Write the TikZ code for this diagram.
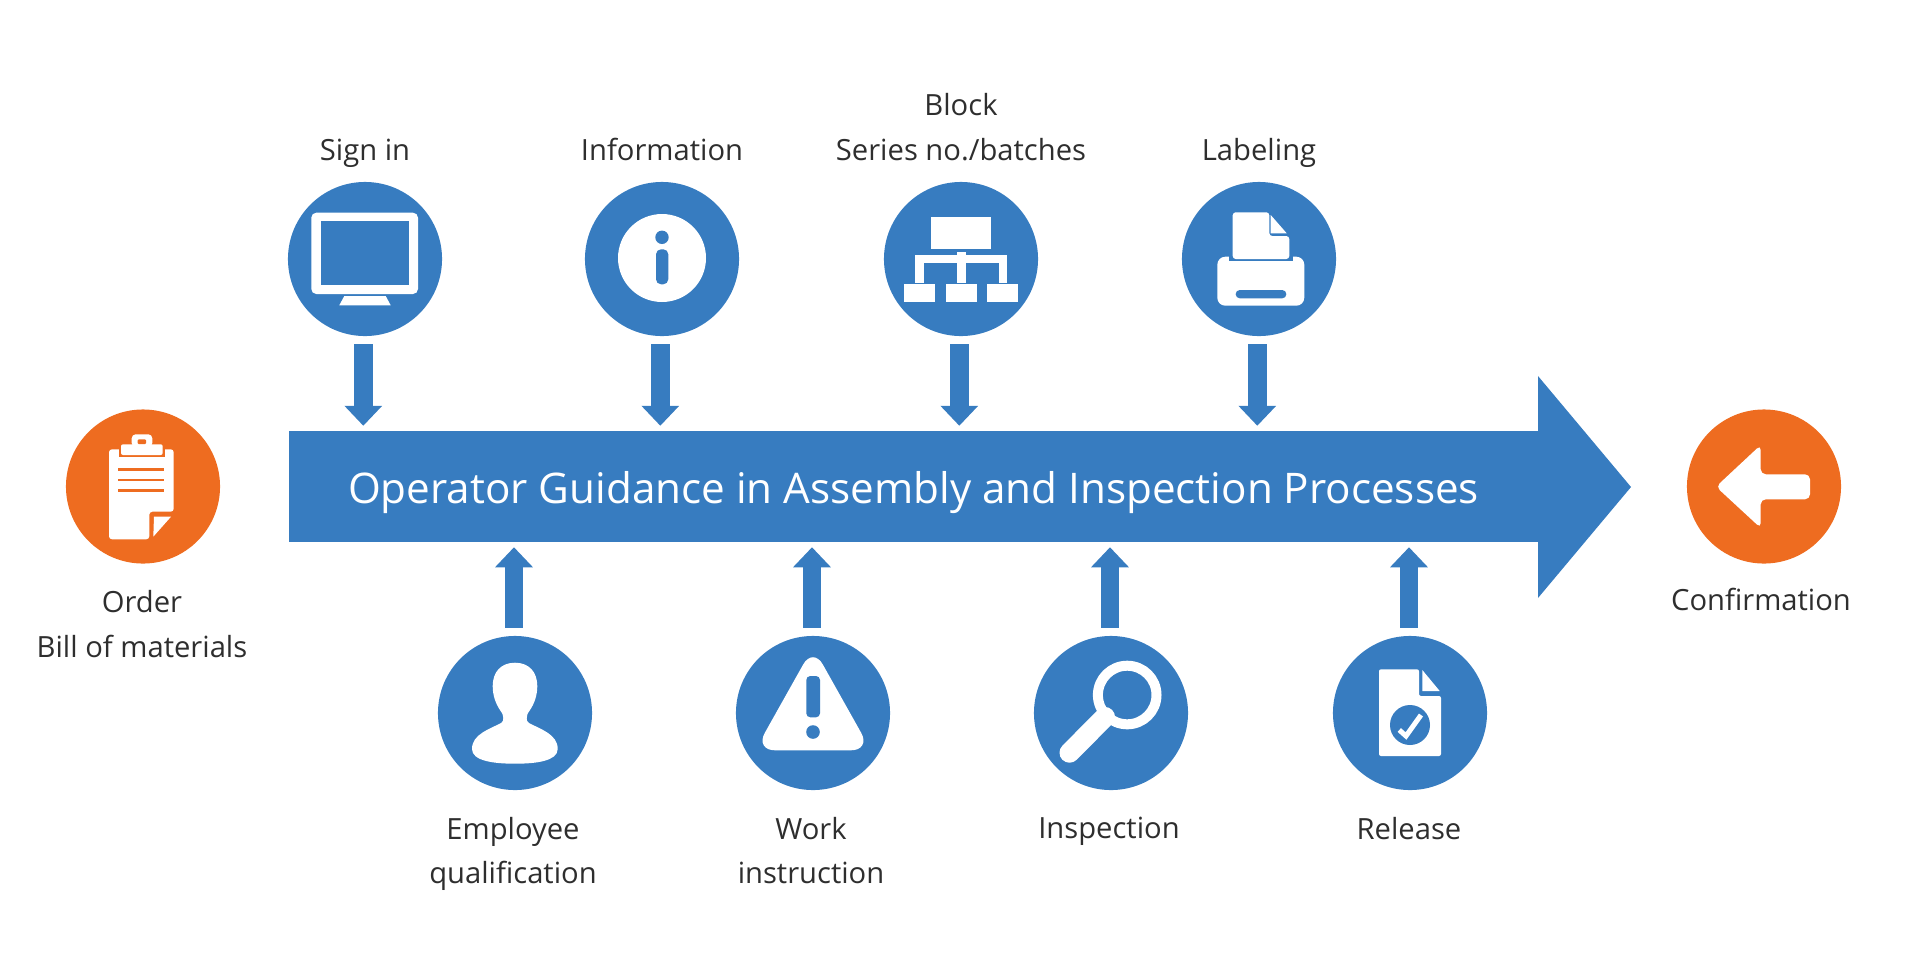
\documentclass[tikz,border=0pt]{standalone}
\usepackage{fontspec}
\usepackage{tikz}
\usetikzlibrary{arrows.meta,positioning}
\setmainfont{Open Sans}
\definecolor{flowblue}{HTML}{377CC0}
\definecolor{endorange}{HTML}{EE6C20}
\definecolor{inktext}{HTML}{2E2E2E}
\tikzset{
    hub/.style={circle, fill=flowblue, minimum size=1.54cm, inner sep=0pt, outer sep=0pt},
    endhub/.style={hub, fill=endorange},
    caption/.style={align=center, anchor=base, text=inktext, inner sep=0pt, font=\fontsize{8.3}{12.6}\selectfont},
    band/.style={fill=flowblue, text=white, inner sep=0pt, outer sep=0pt, minimum width=12.49cm, minimum height=1.11cm, text height=9.56pt, text depth=0pt, font=\fontsize{12}{13}\selectfont},
    flow/.style={draw=flowblue, line width=0.185cm, -{Triangle[length=0.2cm,width=0.366cm]}, shorten <=0.08cm, shorten >=0.052cm},
    cutout/.style={fill=flowblue},
    cutoutend/.style={fill=endorange},
    paper/.style={fill=white}
}

\begin{document}
\begin{tikzpicture}[x=0.01cm,y=-0.01cm]
    \useasboundingbox (0,0) rectangle (1920,960);

    \node[band] at (913.5, 486.5) (band) {Operator Guidance in Assembly and Inspection Processes};
    \fill[flowblue] (1538,376) -- (1631,487) -- (1538,598) -- cycle;

    \node[hub] at (365, 259) (signin) {};
    \node[hub] at (662, 259) (information) {};
    \node[hub] at (961, 259) (blockseries) {};
    \node[hub] at (1259, 259) (labeling) {};
    \node[hub] at (515, 713) (employee) {};
    \node[hub] at (813, 713) (work) {};
    \node[hub] at (1111, 713) (inspection) {};
    \node[hub] at (1410, 713) (release) {};
    \node[endhub] at (143, 486.5) (order) {};
    \node[endhub] at (1764, 486.5) (confirmation) {};

    \foreach \name in {signin,information,blockseries,labeling} {
        \path ([xshift=-0.017cm]\name.south) coordinate (from);
        \draw[flow] (from) -- (from |- band.north);
    }
    \foreach \name in {employee,work,inspection,release} {
        \path ([xshift=-0.01cm]\name.north) coordinate (from);
        \draw[flow] (from) -- (from |- band.south);
    }

    \node[caption] at (365, 160) (signinlabel) {Sign in};
    \node[caption] at (662, 160) (informationlabel) {Information};
    \node[caption] at (961, 160) (blockserieslabel) {Block\\Series no./batches};
    \node[caption] at (1259, 160) (labelinglabel) {Labeling};
    \node[caption] at (142, 657) (orderlabel) {Order\\Bill of materials};
    \node[caption] at (1761, 610.7) (confirmationlabel) {Confirmation};
    \node[caption] at (513, 883.7) (employeelabel) {Employee\\qualification};
    \node[caption] at (811, 883.7) (worklabel) {Work\\instruction};
    \node[caption] at (1109, 838.3) (inspectionlabel) {Inspection};
    \node[caption] at (1409, 839.3) (releaselabel) {Release};

    \fill[paper, rounded corners=0.05cm] (311.3,212.7) rectangle (418,294);
    \fill[cutout] (320.7,221.3) rectangle (409,285);
    \fill[paper] (344.3,296) -- (385.7,296) -- (390.7,305.3) -- (339.3,305.3) -- cycle;

    \fill[paper] (662,258) circle (44);
    \fill[cutout] (662,237.3) circle (6.7);
    \fill[cutout, rounded corners=0.05cm] (656,249.3) rectangle (668.3,284.3);

    \fill[paper] (931,216.7) rectangle (991,249.3);
    \fill[paper] (957.3,251.5) rectangle (965.7,283);
    \fill[paper] (915.3,254.7) rectangle (1007,263);
    \fill[paper] (915.3,254.7) rectangle (923.7,283);
    \fill[paper] (998.7,254.7) rectangle (1007,283);
    \fill[paper] (904,284.3) rectangle (935,302.3);
    \fill[paper] (945.7,284.3) rectangle (976.7,302.3);
    \fill[paper] (987.3,284.3) rectangle (1018.3,302.3);

    \fill[paper, rounded corners=0.08cm] (1217.3,256.7) rectangle (1304.3,305.7);
    \fill[cutout] (1229,250) rectangle (1293,261);
    \fill[paper, rounded corners=0.03cm] (1232.7,212.3) -- (1269.3,212.3) -- (1269.3,236) -- (1289.3,236) -- (1289.3,259) -- (1232.7,259) -- cycle;
    \fill[paper] (1270.7,215) -- (1286.7,233.3) -- (1270.7,233.3) -- cycle;
    \fill[cutout, rounded corners=0.04cm] (1235.7,290) rectangle (1286.3,298.3);

    \fill[paper] (515,662.7) .. controls (529,662.7) and (537.3,672) .. (537.3,686)
        .. controls (537.3,696) and (534,704) .. (530,710)
        .. controls (527.5,713.5) and (526.7,715.5) .. (526.7,718)
        .. controls (526.7,720.5) and (527,722) .. (529,723)
        .. controls (540,729) and (557.7,734) .. (557.7,749)
        .. controls (557.7,761) and (536,763.7) .. (515,763.7)
        .. controls (494,763.7) and (472,761) .. (472,749)
        .. controls (472,734) and (490,729) .. (501,723)
        .. controls (503,722) and (503.3,720.5) .. (503.3,718)
        .. controls (503.3,715.5) and (502.5,713.5) .. (500,710)
        .. controls (496,704) and (492.7,696) .. (492.7,686)
        .. controls (492.7,672) and (501,662.7) .. (515,662.7) -- cycle;

    \fill[paper, rounded corners=0.2cm] (813,647) -- (871,750.3) -- (755,750.3) -- cycle;
    \fill[cutout, rounded corners=0.04cm] (806.3,676) rectangle (820,717.3);
    \fill[cutout] (813,732) circle (6.8);

    \draw[white, line width=0.1cm] (1127.2,695) circle (29.3);
    \draw[white, line width=0.2cm, line cap=round] (1069.5,752.7) -- (1105,717);

    \fill[paper, rounded corners=0.02cm] (1379,669.3) -- (1419,669.3) -- (1419,696) -- (1441,696) -- (1441,756) -- (1379,756) -- cycle;
    \fill[paper] (1422.3,670) -- (1439.7,691) -- (1422.3,691) -- cycle;
    \fill[cutout] (1410,725) circle (20);
    \draw[white, line width=0.05cm] (1399.3,730) -- (1406,736) -- (1421,715);

    \fill[paper, rounded corners=0.03cm] (109,449.3) -- (173.7,449.3) -- (173.7,511.7) -- (149.3,511.7) -- (149.3,539.3) -- (109,539.3) -- cycle;
    \fill[cutoutend] (118.5,445) rectangle (165,457.3);
    \fill[paper, rounded corners=0.02cm] (121,444.3) rectangle (162.7,455);
    \fill[paper, rounded corners=0.04cm] (131.7,434.3) rectangle (152.3,447);
    \fill[cutoutend, rounded corners=0.01cm] (137.7,439.3) rectangle (146,444);
    \fill[cutoutend] (118.3,468.1) rectangle (163.7,470.6);
    \fill[cutoutend] (118.3,478.6) rectangle (163.7,481);
    \fill[cutoutend] (118.3,489.3) rectangle (163.7,491.7);
    \fill[paper] (154,516.7) -- (171,516.7) -- (153.3,536.7) -- cycle;

    \fill[paper, rounded corners=0.05cm] (1716,486.7) -- (1760.7,445) -- (1760.7,474.3) -- (1810,474.3) -- (1810,499.3) -- (1760.7,499.3) -- (1760.7,528) -- cycle;
\end{tikzpicture}
\end{document}
